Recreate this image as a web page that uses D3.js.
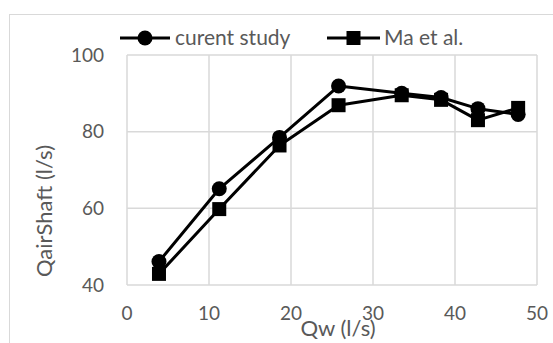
<!DOCTYPE html>
<html lang="en">
<head>
    <meta charset="UTF-8">
    <title>QairShaft vs Qw</title>
    <script src="https://d3js.org/d3.v7.min.js"></script>
    <style>
        body {
            margin: 0;
            background: #fff;
            font-family: Lato, "Open Sans", sans-serif;
        }

        .grid line {
            stroke: #d9d9d9;
            stroke-width: 1.5;
        }

        .tick-label {
            fill: #595959;
            font-size: 19px;
        }

        .axis-title {
            fill: #595959;
            font-size: 22px;
        }

        .legend-text {
            fill: #595959;
            font-size: 21px;
        }
    </style>
</head>
<body>
    <svg></svg>

    <script>
        // Data
        const qw = [3.9, 11.25, 18.6, 25.8, 33.5, 38.3, 42.8, 47.7];
        const currentStudy = [46.1, 65.1, 78.5, 91.9, 90.0, 88.9, 86.0, 84.5];
        const maEtAl = [42.9, 59.8, 76.4, 86.9, 89.5, 88.3, 83.0, 86.2];
        const xTicks = [0, 10, 20, 30, 40, 50];
        const yTicks = [40, 60, 80, 100];

        const series = [
            { name: "curent study", values: currentStudy, marker: "circle" },
            { name: "Ma et al.", values: maEtAl, marker: "square" }
        ];

        const W = 553, H = 343;
        const plot = { left: 127, right: 537, top: 55, bottom: 285 };

        const svg = d3.select("svg")
            .attr("width", W)
            .attr("height", H);

        // chart area border
        svg.append("rect")
            .attr("x", 9.5)
            .attr("y", 14.5)
            .attr("width", W)
            .attr("height", H)
            .attr("fill", "#fff")
            .attr("stroke", "#d9d9d9")
            .attr("stroke-width", 1);

        const x = d3.scaleLinear().domain([0, 50]).range([plot.left, plot.right]);
        const y = d3.scaleLinear().domain([40, 100]).range([plot.bottom, plot.top]);

        // gridlines
        const grid = svg.append("g").attr("class", "grid");
        grid.selectAll(".vx")
            .data(xTicks)
            .enter().append("line")
            .attr("x1", d => x(d)).attr("x2", d => x(d))
            .attr("y1", plot.top).attr("y2", plot.bottom);
        grid.selectAll(".hy")
            .data(yTicks)
            .enter().append("line")
            .attr("x1", plot.left).attr("x2", plot.right)
            .attr("y1", d => y(d)).attr("y2", d => y(d));

        // tick labels
        svg.append("g").selectAll("text")
            .data(xTicks)
            .enter().append("text")
            .attr("class", "tick-label")
            .attr("x", d => x(d))
            .attr("y", plot.bottom + 35)
            .attr("text-anchor", "middle")
            .text(d => d);

        svg.append("g").selectAll("text")
            .data(yTicks)
            .enter().append("text")
            .attr("class", "tick-label")
            .attr("x", plot.left - 23)
            .attr("y", d => y(d))
            .attr("dy", "0.35em")
            .attr("text-anchor", "end")
            .text(d => d);

        // axis titles
        svg.append("text")
            .attr("class", "axis-title")
            .attr("x", 338)
            .attr("y", 336)
            .attr("text-anchor", "middle")
            .text("Qw (l/s)");

        svg.append("text")
            .attr("class", "axis-title")
            .attr("transform", `translate(52,${(plot.top + plot.bottom) / 2 + 41}) rotate(-90)`)
            .attr("text-anchor", "middle")
            .text("QairShaft (l/s)");

        // series
        const line = d3.line()
            .x((d, i) => x(qw[i]))
            .y(d => y(d));

        function drawMarker(g, type, cx, cy) {
            if (type === "circle") {
                g.append("circle").attr("cx", cx).attr("cy", cy).attr("r", 7.5).attr("fill", "#000");
            } else {
                g.append("rect").attr("x", cx - 7).attr("y", cy - 7)
                    .attr("width", 14).attr("height", 14).attr("fill", "#000");
            }
        }

        series.forEach(s => {
            const g = svg.append("g");
            g.append("path")
                .datum(s.values)
                .attr("d", line)
                .attr("fill", "none")
                .attr("stroke", "#000")
                .attr("stroke-width", 3)
                .attr("stroke-linejoin", "round");
            s.values.forEach((v, i) => drawMarker(g, s.marker, x(qw[i]), y(v)));
        });

        // legend
        const legendY = 38;
        const legendItems = [
            { s: series[0], x0: 120, x1: 170, tx: 175 },
            { s: series[1], x0: 327, x1: 380, tx: 384 }
        ];
        legendItems.forEach(item => {
            const g = svg.append("g");
            g.append("line")
                .attr("x1", item.x0).attr("x2", item.x1)
                .attr("y1", legendY).attr("y2", legendY)
                .attr("stroke", "#000").attr("stroke-width", 3);
            drawMarker(g, item.s.marker, (item.x0 + item.x1) / 2, legendY);
            g.append("text")
                .attr("class", "legend-text")
                .attr("x", item.tx)
                .attr("y", legendY)
                .attr("dy", "0.35em")
                .text(item.s.name);
        });
    </script>
</body>
</html>
